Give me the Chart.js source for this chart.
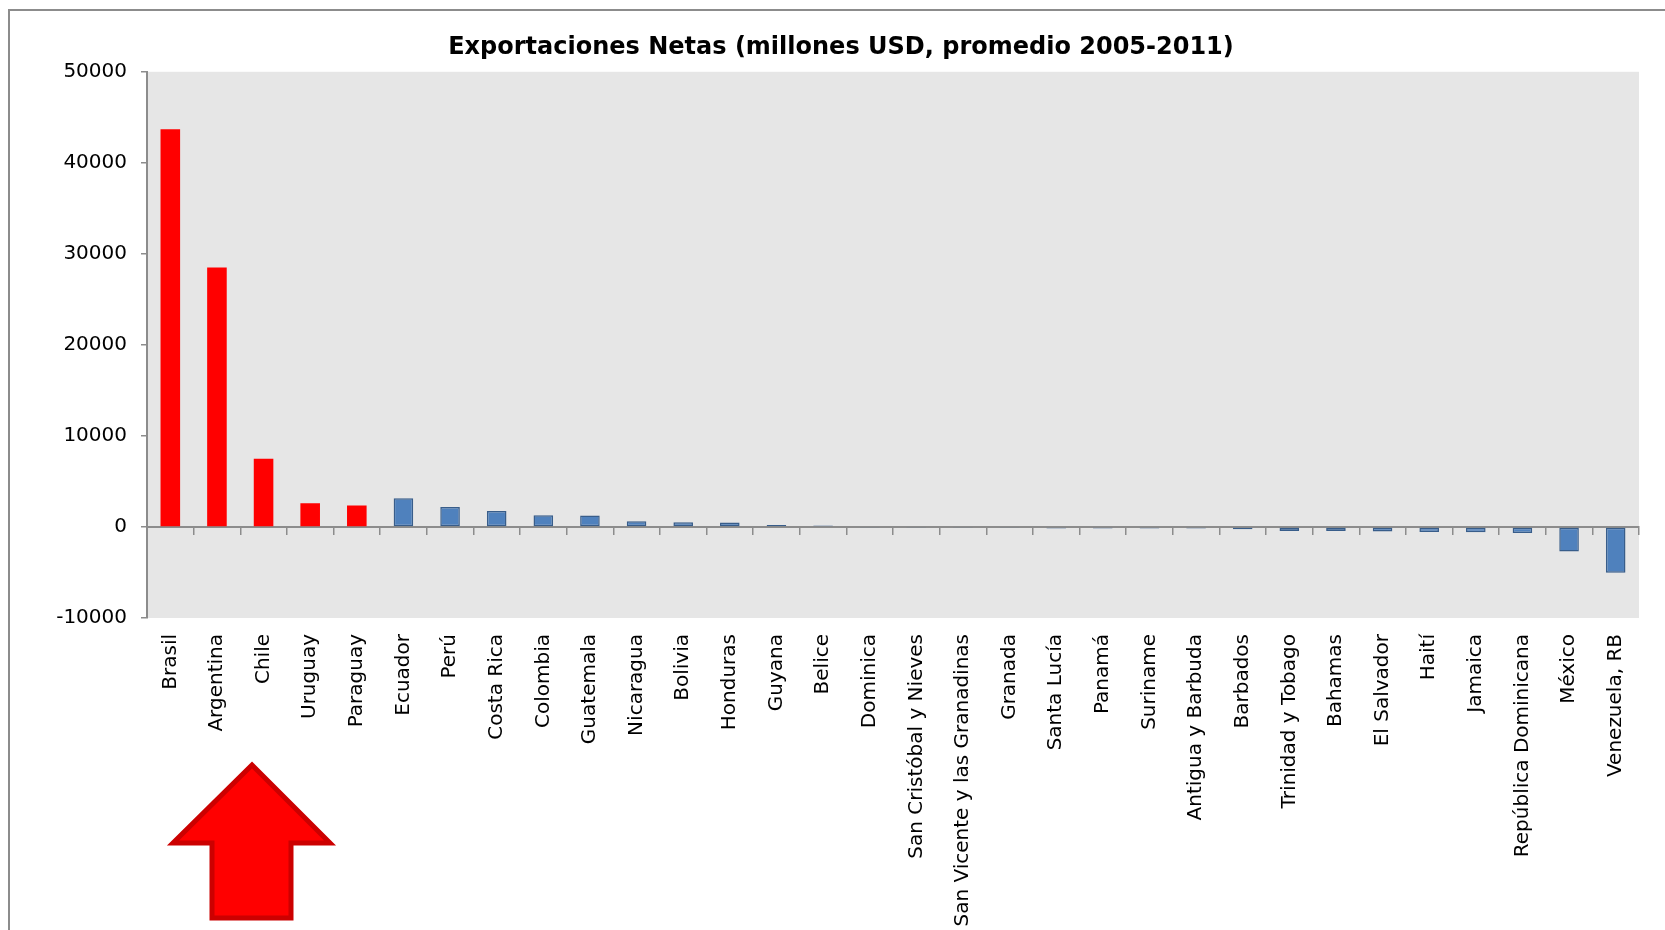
<!DOCTYPE html>
<html lang="es">
<head>
<meta charset="UTF-8">
<title>Exportaciones Netas</title>
<script src="https://cdn.jsdelivr.net/npm/chart.js@4.4.1/dist/chart.umd.min.js"></script>
<style>
    body{
        margin: 0;
        background: #ffffff;
        overflow: hidden;
    }
    .marco{
        position: absolute;
        left: 8px;
        top: 9px;
        width: 1700px;
        height: 1000px;
        border: 2px solid #8c8c8c;
    }
    .grafica{
        position: absolute;
        left: 0;
        top: 0;
        width: 1682px;
        height: 930px;
    }
    .flecha{
        position: absolute;
        left: 0;
        top: 0;
    }
</style>
</head>
<body>
<div class="marco"></div>
<div class="grafica">
    <canvas id="miCanvas"></canvas>
</div>
<svg class="flecha" width="400" height="930">
    <polygon points="252,765 330,843 291,843 291,918 212,918 212,843 173,843"
             fill="#ff0000" stroke="#cc0000" stroke-width="5" stroke-linejoin="miter"/>
</svg>
<script>
// datos
const paises = ["Brasil","Argentina","Chile","Uruguay","Paraguay","Ecuador","Perú","Costa Rica",
    "Colombia","Guatemala","Nicaragua","Bolivia","Honduras","Guyana","Belice","Dominica",
    "San Cristóbal y Nieves","San Vicente y las Granadinas","Granada","Santa Lucía","Panamá",
    "Suriname","Antigua y Barbuda","Barbados","Trinidad y Tobago","Bahamas","El Salvador",
    "Haití","Jamaica","República Dominicana","México","Venezuela, RB"];
const exportNetas = [43700, 28500, 7500, 2600, 2350, 3150, 2200, 1750,
    1300, 1270, 620, 510, 480, 220, 170, -110,
    -110, -120, -120, -160, -160,
    -170, -180, -250, -430, -440, -500,
    -540, -580, -650, -2700, -5020];
const destacados = ["Brasil","Argentina","Chile","Uruguay","Paraguay"];
const ticksY = [-10000, 0, 10000, 20000, 30000, 40000, 50000];

const gris = '#8c8c8c';
const rellenos = paises.map(p => destacados.includes(p) ? '#ff0000' : '#4f81bd');
const bordes = paises.map(p => destacados.includes(p) ? '#ff0000' : '#385d8a');
const anchoBorde = paises.map(p => destacados.includes(p) ? 0 : 1.5);

const fondoArea = {
    id: 'fondoArea',
    beforeDraw(chart){
        const a = chart.chartArea;
        const ctx = chart.ctx;
        ctx.save();
        ctx.fillStyle = '#e6e6e6';
        ctx.fillRect(a.left, a.top, a.right - a.left, a.bottom - a.top);
        ctx.restore();
    }
};

const ctx = document.getElementById('miCanvas').getContext('2d');
new Chart(ctx, {
    type: 'bar',
    data: {
        labels: paises,
        datasets: [{
            label: 'Exportaciones netas',
            data: exportNetas,
            xAxisID: 'x',
            backgroundColor: rellenos,
            borderColor: bordes,
            borderWidth: anchoBorde,
            borderSkipped: false,
            categoryPercentage: 1,
            barPercentage: 0.42
        }]
    },
    options: {
        responsive: true,
        maintainAspectRatio: false,
        animation: false,
        layout: {padding: {left: 43, right: 43, top: 0, bottom: 0}},
        plugins: {
            legend: {display: false},
            tooltip: {enabled: false},
            title: {
                display: true,
                text: 'Exportaciones Netas (millones USD, promedio 2005-2011)',
                color: '#000000',
                font: {family: 'DejaVu Sans', size: 24, weight: 'bold', lineHeight: 1.2},
                padding: {top: 33, bottom: 10}
            }
        },
        scales: {
            x: {
                type: 'category',
                position: 'bottom',
                grid: {display: false, drawTicks: false},
                border: {display: false},
                ticks: {
                    autoSkip: false,
                    maxRotation: 90,
                    minRotation: 90,
                    padding: 16,
                    color: '#000000',
                    font: {family: 'DejaVu Sans', size: 20}
                },
                afterFit: (scale) => { scale.height = 312; }
            },
            x0: {
                type: 'category',
                position: {y: 0},
                offset: true,
                ticks: {display: false},
                grid: {
                    offset: true,
                    drawOnChartArea: false,
                    drawTicks: true,
                    tickLength: 7,
                    color: gris,
                    lineWidth: 1.5
                },
                border: {display: true, color: gris, width: 2}
            },
            y: {
                min: -10000,
                max: 50000,
                afterBuildTicks: (scale) => { scale.ticks = ticksY.map(v => ({value: v})); },
                grid: {
                    drawOnChartArea: false,
                    drawTicks: true,
                    tickLength: 6,
                    color: gris,
                    lineWidth: 1.5
                },
                border: {display: true, color: gris, width: 2},
                ticks: {
                    padding: 14,
                    color: '#000000',
                    font: {family: 'DejaVu Sans', size: 20},
                    callback: (v) => String(v)
                },
                afterFit: (scale) => { scale.width = 104; }
            }
        }
    },
    plugins: [fondoArea]
});
</script>
</body>
</html>
